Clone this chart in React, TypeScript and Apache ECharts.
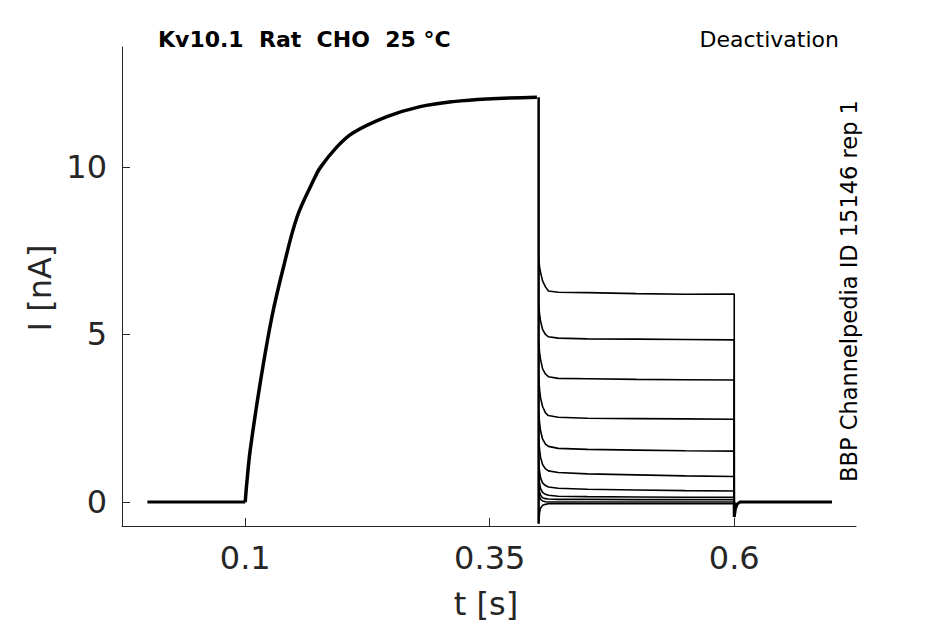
import React, { useEffect, useRef } from "react";
import * as echarts from "echarts";

// time ticks and current ticks
const X_TICKS = [0.1, 0.35, 0.6];
const Y_TICKS = [0, 5, 10];

// baseline before the activating step
const BASELINE = [
  [0.0, 0],
  [0.1, 0],
];

// activation phase (shared by all sweeps), t [s], I [nA]
const ACT_T = [0.1, 0.1017, 0.1051, 0.1153, 0.1273, 0.1392, 0.1529, 0.1698, 0.1767, 0.1938, 0.2104, 0.2449, 0.2789, 0.3127, 0.3471, 0.3983];
const ACT_I = [0, 0.6, 1.55, 3.55, 5.53, 7.02, 8.5, 9.6, 9.98, 10.6, 11.02, 11.5, 11.8, 11.95, 12.03, 12.08];

// step at 0.4 s (common vertical edge)
const STEP_DOWN = [
  [0.4, 12.08],
  [0.4, -0.65],
];

// tail sample times
const TAIL_T = [0.4, 0.401, 0.402, 0.404, 0.407, 0.41, 0.42, 0.45, 0.5, 0.55, 0.6];
// tail currents per sweep
const TAIL_1 = [7.3, 7.0, 6.85, 6.6, 6.42, 6.3, 6.26, 6.25, 6.22, 6.2, 6.21];
const TAIL_2 = [5.9, 5.6, 5.4, 5.15, 5.0, 4.93, 4.89, 4.87, 4.86, 4.85, 4.84];
const TAIL_3 = [4.8, 4.45, 4.25, 3.98, 3.82, 3.74, 3.69, 3.68, 3.66, 3.65, 3.64];
const TAIL_4 = [3.7, 3.35, 3.1, 2.85, 2.66, 2.58, 2.53, 2.5, 2.49, 2.48, 2.47];
const TAIL_5 = [2.7, 2.35, 2.12, 1.88, 1.73, 1.66, 1.6, 1.57, 1.55, 1.53, 1.52];
const TAIL_6 = [1.9, 1.55, 1.33, 1.12, 0.99, 0.93, 0.88, 0.84, 0.81, 0.78, 0.76];
const TAIL_7 = [1.2, 0.9, 0.72, 0.57, 0.49, 0.45, 0.41, 0.38, 0.36, 0.34, 0.33];
const TAIL_8 = [0.8, 0.55, 0.4, 0.29, 0.23, 0.2, 0.17, 0.16, 0.15, 0.14, 0.14];
const TAIL_9 = [0.5, 0.3, 0.2, 0.13, 0.1, 0.09, 0.08, 0.08, 0.07, 0.07, 0.07];
const TAIL_10 = [0.3, 0.15, 0.08, 0.03, 0.01, 0.0, 0.0, 0.0, 0.0, 0.0, 0.0];
const TAIL_11 = [-0.6, -0.3, -0.18, -0.1, -0.07, -0.05, -0.05, -0.05, -0.05, -0.05, -0.05];
const TAILS = [TAIL_1, TAIL_2, TAIL_3, TAIL_4, TAIL_5, TAIL_6, TAIL_7, TAIL_8, TAIL_9, TAIL_10, TAIL_11];

// return to holding after 0.6 s
const AFTER_T = [0.6, 0.6, 0.6012, 0.603, 0.606, 0.7];
const AFTER_I = [0, -0.45, -0.2, -0.06, 0, 0];

const TEXT = "#262626";
const FONT = "DejaVu Sans";

export default function App() {
  const ref = useRef<HTMLDivElement>(null);

  useEffect(() => {
    if (!ref.current) return;
    const chart = echarts.init(ref.current, undefined, { renderer: "svg" });

    const lineStyle = (w: number) => ({ color: "#000", width: w });
    const series: any[] = [];
    series.push({
      type: "line",
      data: BASELINE,
      showSymbol: false,
      lineStyle: lineStyle(3),
    });
    series.push({
      type: "line",
      data: ACT_T.map((t, i) => [t, ACT_I[i]]),
      showSymbol: false,
      smooth: 0.35,
      lineStyle: lineStyle(3.5),
    });
    series.push({
      type: "line",
      data: STEP_DOWN,
      showSymbol: false,
      lineStyle: lineStyle(2.5),
    });
    TAILS.forEach((vals) => {
      const d = TAIL_T.map((t, i) => [t, vals[i]]);
      d.push([0.6, 0]);
      series.push({
        type: "line",
        data: d,
        showSymbol: false,
        lineStyle: lineStyle(1.6),
      });
    });
    series.push({
      type: "line",
      data: AFTER_T.map((t, i) => [t, AFTER_I[i]]),
      showSymbol: false,
      lineStyle: lineStyle(3),
    });

    chart.setOption({
      animation: false,
      backgroundColor: "#fff",
      textStyle: { fontFamily: FONT },
      grid: { left: 122, top: 47, right: 89, bottom: 98, containLabel: false },
      xAxis: {
        type: "value",
        min: -0.026,
        max: 0.7245,
        splitLine: { show: false },
        axisLine: { show: true, onZero: false, lineStyle: { color: TEXT, width: 1 } },
        axisTick: { show: true, inside: true, length: 8, customValues: X_TICKS, lineStyle: { color: TEXT } },
        axisLabel: {
          customValues: X_TICKS,
          color: TEXT,
          fontSize: 32,
          fontFamily: FONT,
          margin: 16,
          formatter: (v: number) => String(v),
        },
      },
      yAxis: {
        type: "value",
        min: -0.716,
        max: 13.58,
        splitLine: { show: false },
        axisLine: { show: true, onZero: false, lineStyle: { color: TEXT, width: 1 } },
        axisTick: { show: true, inside: true, length: 8, customValues: Y_TICKS, lineStyle: { color: TEXT } },
        axisLabel: {
          customValues: Y_TICKS,
          color: TEXT,
          fontSize: 32,
          fontFamily: FONT,
          margin: 15,
          formatter: (v: number) => String(v),
        },
      },
      graphic: [
        {
          type: "text",
          x: 158,
          y: 39,
          style: {
            text: "Kv10.1  Rat  CHO  25 °C",
            fill: "#000",
            font: `bold 22px "${FONT}"`,
            textAlign: "left",
            textVerticalAlign: "middle",
          },
        },
        {
          type: "text",
          x: 839,
          y: 39,
          style: {
            text: "Deactivation",
            fill: "#000",
            font: `22px "${FONT}"`,
            textAlign: "right",
            textVerticalAlign: "middle",
          },
        },
        {
          type: "text",
          x: 849,
          y: 291,
          rotation: Math.PI / 2,
          style: {
            text: "BBP Channelpedia ID 15146 rep 1",
            fill: "#000",
            font: `22.5px "${FONT}"`,
            textAlign: "center",
            textVerticalAlign: "middle",
          },
        },
        {
          type: "text",
          x: 486,
          y: 604,
          style: {
            text: "t [s]",
            fill: TEXT,
            font: `32px "${FONT}"`,
            textAlign: "center",
            textVerticalAlign: "middle",
          },
        },
        {
          type: "text",
          x: 40,
          y: 288,
          rotation: Math.PI / 2,
          style: {
            text: "I [nA]",
            fill: TEXT,
            font: `32px "${FONT}"`,
            textAlign: "center",
            textVerticalAlign: "middle",
          },
        },
      ],
      series,
    });

    return () => chart.dispose();
  }, []);

  return (
    <div
      ref={ref}
      style={{ position: "fixed", left: 0, top: 0, width: 945, height: 624, background: "#fff" }}
    />
  );
}
